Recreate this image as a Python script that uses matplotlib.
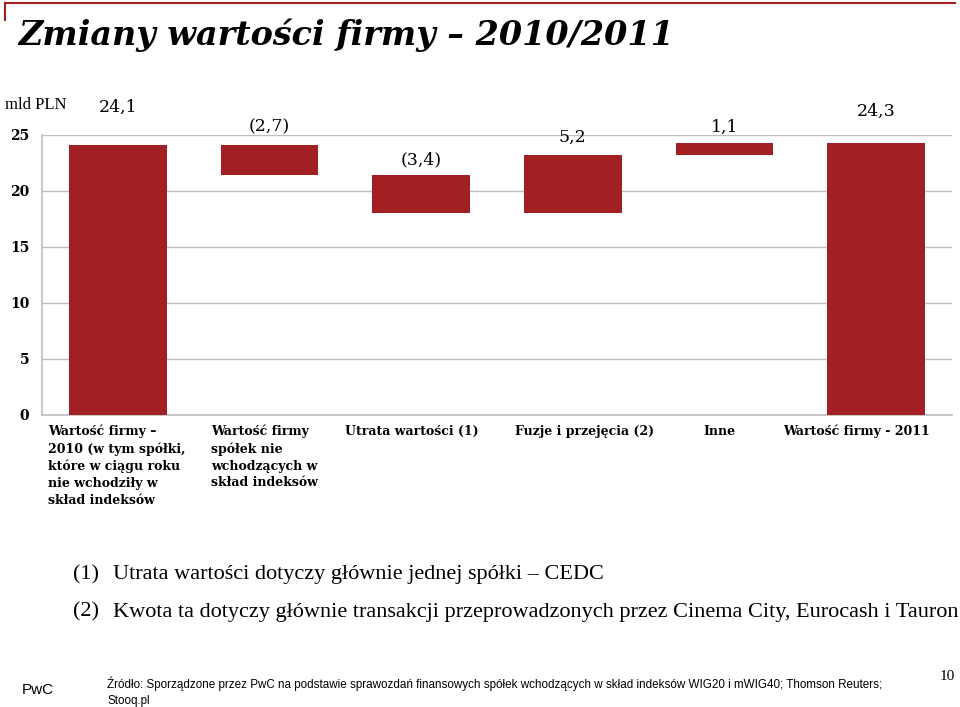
import matplotlib.pyplot as plt
from matplotlib.lines import Line2D

# dane (mld PLN)
categories = [
    "Wartość firmy –\n2010 (w tym spółki,\nktóre w ciągu roku\nnie wchodziły w\nskład indeksów",
    "Wartość firmy\nspółek nie\nwchodzących w\nskład indeksów",
    "Utrata wartości (1)",
    "Fuzje i przejęcia (2)",
    "Inne",
    "Wartość firmy - 2011",
]
changes = [24.1, -2.7, -3.4, 5.2, 1.1, 24.3]
is_total = [True, False, False, False, False, True]
value_labels = ["24,1", "(2,7)", "(3,4)", "5,2", "1,1", "24,3"]
yticks = [0, 5, 10, 15, 20, 25]

# wyglad
RED = "#A21F23"
GRID = "#BEBEBE"
label_dx = [-0.46, -0.386, -0.503, -0.38, -0.14, -0.615]   # przesuniecie etykiet osi x
label_dy = [38, 18, 15, 18, 16, 32]                         # px nad słupkiem

fig = plt.figure(figsize=(9.6, 7.07), dpi=100)
ax = fig.add_axes([42 / 960, 1 - 415 / 707, 910 / 960, 280 / 707])

# waterfall
bottoms, heights = [], []
level = 0.0
for ch, tot in zip(changes, is_total):
    if tot:
        bottoms.append(0.0)
        heights.append(ch)
        level = ch
    else:
        new = level + ch
        bottoms.append(min(level, new))
        heights.append(abs(ch))
        level = new

x = list(range(len(categories)))
ax.bar(x, heights, bottom=bottoms, width=0.646, color=RED, zorder=3)

for i in x:
    top = bottoms[i] + heights[i]
    ax.annotate(value_labels[i], (i, top), xytext=(0, label_dy[i] * 0.72),
                textcoords="offset points", ha="center", va="center",
                fontsize=12.5, family="DejaVu Serif", annotation_clip=False)

ax.set_xlim(-0.5, 5.5)
ax.set_ylim(0, 25)
ax.set_yticks(yticks)
ax.set_yticklabels([str(v) for v in yticks], fontsize=10, fontweight="bold",
                   family="DejaVu Serif")
ax.tick_params(axis="y", length=0, pad=9)
ax.set_xticks([])
ax.grid(axis="y", color=GRID, lw=1, zorder=0)
for s in ["top", "right"]:
    ax.spines[s].set_visible(False)
for s in ["left", "bottom"]:
    ax.spines[s].set_color(GRID)
    ax.spines[s].set_linewidth(1.2)

for i, lab in enumerate(categories):
    ax.text(i + label_dx[i], -0.035, lab, transform=ax.get_xaxis_transform(),
            ha="left", va="top", fontsize=9, fontweight="bold",
            family="DejaVu Serif", linespacing=1.38)

fig.text(5 / 960, 1 - 105 / 707, "mld PLN", fontsize=12, family="Liberation Serif",
         va="center")

# tytul i ramka
fig.text(18 / 960, 1 - 35 / 707, "Zmiany wartości firmy – 2010/2011", fontsize=24,
         fontweight="bold", style="italic", family="DejaVu Serif", va="center")
fig.add_artist(Line2D([5 / 960, 955 / 960], [1 - 3 / 707] * 2, color=RED, lw=1.5))
fig.add_artist(Line2D([5 / 960] * 2, [1 - 3 / 707, 1 - 20 / 707], color=RED, lw=1.5))

# przypisy
notes = ["Utrata wartości dotyczy głównie jednej spółki – CEDC",
         "Kwota ta dotyczy głównie transakcji przeprowadzonych przez Cinema City, Eurocash i Tauron"]
for k, (yy, txt) in enumerate(zip([575, 612], notes)):
    fig.text(73 / 960, 1 - yy / 707, "(%d)" % (k + 1), fontsize=16,
             family="Liberation Serif", va="center")
    fig.text(113 / 960, 1 - yy / 707, txt, fontsize=16, family="Liberation Serif",
             va="center")

# stopka
fig.text(22 / 960, 1 - 690 / 707, "PwC", fontsize=11, family="Liberation Sans",
         va="center")
fig.text(107 / 960, 1 - 692 / 707,
         "Źródło: Sporządzone przez PwC na podstawie sprawozdań finansowych spółek "
         "wchodzących w skład indeksów WIG20 i mWIG40; Thomson Reuters;\nStooq.pl",
         fontsize=8.4, family="Liberation Sans", va="center", linespacing=1.4)
fig.text(947 / 960, 1 - 676 / 707, "10", fontsize=11, family="Liberation Serif",
         va="center", ha="center")

fig.savefig("out.png", dpi=100, facecolor="white")
